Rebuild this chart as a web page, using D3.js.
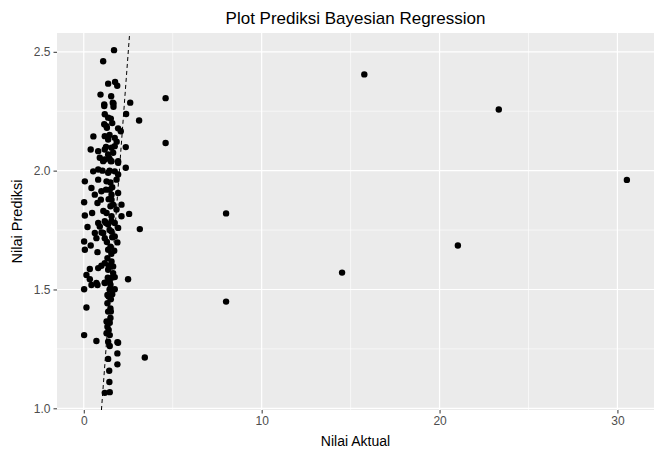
<!DOCTYPE html>
<html>
<head>
<meta charset="UTF-8">
<title>Plot Prediksi Bayesian Regression</title>
<script src="https://cdn.jsdelivr.net/npm/d3@7"></script>
<style>
  body { margin: 0; background: #fff; }
  svg { font-family: "Liberation Sans", Arial, sans-serif; display: block; }
</style>
</head>
<body>
<svg id="chart" width="658" height="451"></svg>
<script>
// nilai aktual (sumbu x) dan nilai prediksi (sumbu y)
var nilaiAktual = [
  1.70, 1.09, 1.37, 1.76, 1.88, 0.94, 1.54, 1.15, 1.63, 2.61,
  1.67, 1.15, 1.67, 1.18, 1.37, 1.52, 2.38, 3.11, 1.15, 1.28,
  1.93, 2.08, 0.54, 1.18, 1.37, 1.74, 1.85, 0.39, 0.81, 1.18,
  1.56, 1.74, 2.36, 0.90, 1.37, 1.65, 1.52, 1.93, 1.18,
  1.09, 1.56, 1.93, 2.36, 0.53, 0.81, 1.37, 1.74, 1.93, 0.06,
  0.81, 1.28, 1.84, 0.43, 1.46, 0.99, 0.62, 1.56, 1.93, 1.56,
  0.02, 0.77, 0.96, 1.65, 2.12, 1.84, 0.06, 0.47, 1.28, 1.56,
  2.12, 2.55, 1.18, 1.56, 0.81,
  0.21, 0.90, 1.37, 1.74, 1.93, 3.15, 0.62, 1.09, 1.56, 0.71,
  1.18, 1.74, 1.89, 0.02, 0.39, 0.06, 0.77, 1.37, 1.71, 1.33,
  1.18, 1.56, 0.99, 1.65, 0.34, 0.81, 1.37, 0.15, 1.65, 1.74,
  0.34, 2.49, 0.71, 1.18, 1.46,
  0.43, 0.77, 1.18, 1.74, 0.02, 1.33, 1.52, 1.33, 0.15, 1.37,
  1.52, 1.28, 1.46, 1.33, 1.28, 1.46, 0.02, 0.71, 1.37, 1.89,
  1.46, 1.93, 1.89, 3.43, 1.37, 1.89, 1.43, 1.44, 1.18, 1.46,
  1.45, 1.50, 1.60, 1.40, 1.50, 1.45, 1.60, 1.30, 1.50, 1.55,
  1.40, 1.60, 1.50, 1.45, 1.40, 1.60, 1.30, 1.45, 1.60, 1.25,
  1.45, 1.05, 1.25, 1.10, 1.00, 1.25, 1.35, 1.50, 1.40, 1.50,
  4.60, 4.60, 8.00, 8.00, 14.52, 15.77, 21.03, 23.33, 30.53
];
var nilaiPrediksi = [
  2.507, 2.460, 2.366, 2.373, 2.357, 2.320, 2.313, 2.279, 2.286, 2.286,
  2.283, 2.272, 2.269, 2.237, 2.223, 2.219, 2.238, 2.211, 2.195, 2.187,
  2.178, 2.166, 2.144, 2.145, 2.131, 2.138, 2.122, 2.089, 2.082, 2.089,
  2.096, 2.103, 2.099, 2.054, 2.068, 2.075, 2.040, 2.040, 2.047,
  2.040, 2.040, 2.033, 2.012, 1.997, 2.005, 1.991, 1.997, 1.984, 1.955,
  1.962, 1.955, 1.962, 1.927, 1.920, 1.913, 1.899, 1.899, 1.906, 1.878,
  1.867, 1.864, 1.878, 1.857, 1.857, 1.836, 1.811, 1.822, 1.822, 1.808,
  1.808, 1.818, 1.787, 1.787, 1.780,
  1.763, 1.765, 1.773, 1.780, 1.759, 1.754, 1.738, 1.738, 1.744, 1.716,
  1.716, 1.723, 1.698, 1.702, 1.685, 1.667, 1.657, 1.667, 1.663, 1.632,
  1.611, 1.618, 1.600, 1.597, 1.586, 1.590, 1.583, 1.561, 1.569, 1.552,
  1.543, 1.543, 1.527, 1.529, 1.533,
  1.519, 1.519, 1.527, 1.501, 1.501, 1.477, 1.459, 1.442, 1.424, 1.407,
  1.407, 1.365, 1.360, 1.343, 1.316, 1.308, 1.308, 1.283, 1.280, 1.278,
  1.262, 1.276, 1.231, 1.214, 1.208, 1.185, 1.158, 1.111, 1.065, 1.068,
  2.000, 1.950, 1.930, 1.880, 1.850, 1.750, 1.720, 1.700, 1.680, 1.650,
  1.600, 1.550, 1.520, 1.500, 1.470, 1.480, 2.180, 2.150, 2.200, 2.100,
  2.050, 2.000, 1.920, 1.830, 1.740, 1.780, 1.550, 1.380, 1.330, 1.420,
  2.305, 2.116, 1.820, 1.449, 1.571, 2.405, 1.685, 2.257, 1.961
];

var xTicks = [0, 10, 20, 30];
var xMinor = [5, 15, 25];
var yTicks = [1.0, 1.5, 2.0, 2.5];
var yMinor = [1.25, 1.75, 2.25];

// garis referensi y = x
var garisIntercept = 0, garisSlope = 1;

var judul = "Plot Prediksi Bayesian Regression";
var labelX = "Nilai Aktual";
var labelY = "Nilai Prediksi";

var svg = d3.select("#chart"),
    margin = {top: 33, right: 4, bottom: 41, left: 57},
    width = 658 - margin.left - margin.right,
    height = 451 - margin.top - margin.bottom;

var data = nilaiAktual.map(function(d, i) { return {x: d, y: nilaiPrediksi[i]}; });

// perluasan 5% seperti ggplot
function expand(ext) {
  var pad = (ext[1] - ext[0]) * 0.05;
  return [ext[0] - pad, ext[1] + pad];
}

var x = d3.scaleLinear().domain(expand(d3.extent(nilaiAktual))).range([0, width]);
var y = d3.scaleLinear().domain(expand(d3.extent(nilaiPrediksi))).range([height, 0]);

var g = svg.append("g").attr("transform", "translate(" + margin.left + "," + margin.top + ")");

g.append("rect")
  .attr("width", width).attr("height", height)
  .attr("fill", "#EBEBEB");

g.append("clipPath").attr("id", "clip")
  .append("rect").attr("width", width).attr("height", height);

// grid minor
g.selectAll(".xminor").data(xMinor).enter().append("line")
  .attr("x1", d => x(d)).attr("x2", d => x(d))
  .attr("y1", 0).attr("y2", height)
  .attr("stroke", "#fff").attr("stroke-width", 0.6);
g.selectAll(".yminor").data(yMinor).enter().append("line")
  .attr("y1", d => y(d)).attr("y2", d => y(d))
  .attr("x1", 0).attr("x2", width)
  .attr("stroke", "#fff").attr("stroke-width", 0.6);

// grid mayor
g.selectAll(".xmajor").data(xTicks).enter().append("line")
  .attr("x1", d => x(d)).attr("x2", d => x(d))
  .attr("y1", 0).attr("y2", height)
  .attr("stroke", "#fff").attr("stroke-width", 1.2);
g.selectAll(".ymajor").data(yTicks).enter().append("line")
  .attr("y1", d => y(d)).attr("y2", d => y(d))
  .attr("x1", 0).attr("x2", width)
  .attr("stroke", "#fff").attr("stroke-width", 1.2);

// titik
g.append("g").attr("clip-path", "url(#clip)")
  .selectAll("circle").data(data).enter().append("circle")
  .attr("cx", d => x(d.x)).attr("cy", d => y(d.y))
  .attr("r", 3.2).attr("fill", "#000");

// garis putus-putus y = x
var yDom = y.domain();
g.append("line")
  .attr("clip-path", "url(#clip)")
  .attr("x1", x((yDom[0] - garisIntercept) / garisSlope)).attr("y1", y(yDom[0]))
  .attr("x2", x((yDom[1] - garisIntercept) / garisSlope)).attr("y2", y(yDom[1]))
  .attr("stroke", "#000").attr("stroke-width", 1)
  .attr("stroke-dasharray", "4,3");

// sumbu
var xAxis = g.append("g").attr("transform", "translate(0," + height + ")")
  .call(d3.axisBottom(x).tickValues(xTicks).tickFormat(d3.format("d")).tickSize(3.5).tickPadding(3));
var yAxis = g.append("g")
  .call(d3.axisLeft(y).tickValues(yTicks).tickFormat(d3.format(".1f")).tickSize(3.5).tickPadding(3));

[xAxis, yAxis].forEach(function(a) {
  a.select(".domain").remove();
  a.selectAll(".tick line").attr("stroke", "#333333").attr("stroke-width", 1);
  a.selectAll(".tick text").attr("fill", "#4D4D4D")
    .style("font-size", "12px").style("font-family", "Liberation Sans, Arial, sans-serif");
});

// judul dan label
svg.append("text")
  .attr("x", margin.left + width / 2).attr("y", 24)
  .attr("text-anchor", "middle")
  .style("font-size", "17px").attr("fill", "#000")
  .text(judul);

svg.append("text")
  .attr("x", margin.left + width / 2).attr("y", 446)
  .attr("text-anchor", "middle")
  .style("font-size", "14px").attr("fill", "#000")
  .text(labelX);

svg.append("text")
  .attr("transform", "translate(22," + (margin.top + height / 2) + ") rotate(-90)")
  .attr("text-anchor", "middle")
  .style("font-size", "14.5px").attr("fill", "#000")
  .text(labelY);
</script>
</body>
</html>
